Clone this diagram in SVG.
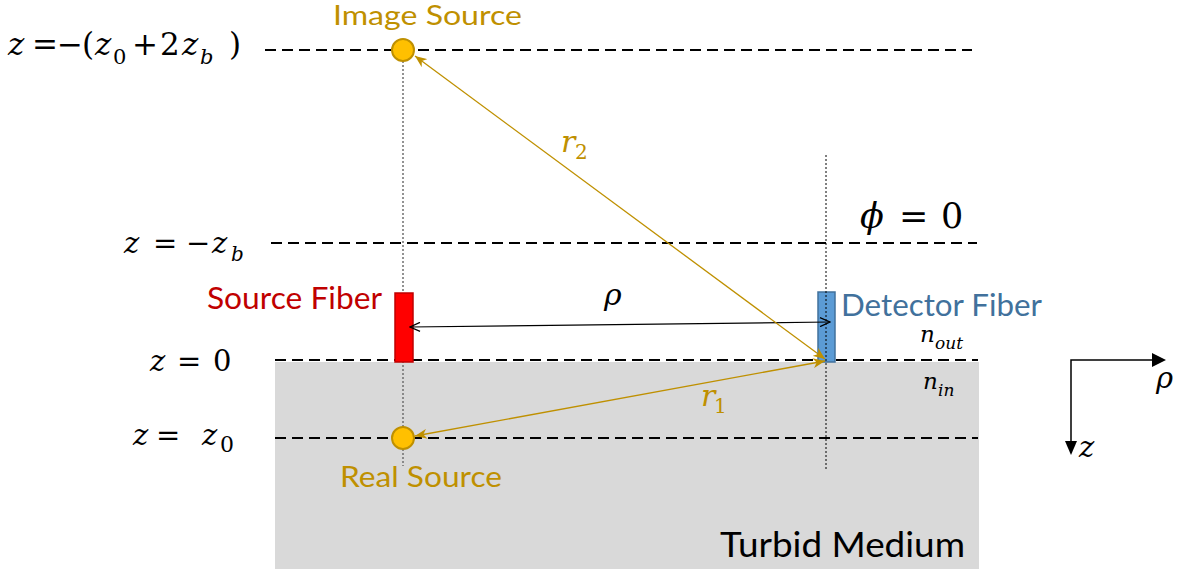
<svg xmlns="http://www.w3.org/2000/svg" width="1195" height="572" viewBox="0 0 1195 572">
<style>
.dash{stroke:#000;stroke-width:2;stroke-dasharray:11,6;fill:none}
.lbl{font-family:Lato,"Open Sans","Liberation Sans",sans-serif}
.m{font-family:"DejaVu Serif","Liberation Serif",serif;fill:#000}
.i{font-style:italic}
.gold{fill:#BF9000}
.ray{stroke:#BF9000;stroke-width:1.3;fill:none}
.src{fill:#FFC000;stroke:#BF9000;stroke-width:2}
</style>
<defs>
<marker id="stealth" viewBox="0 0 12 10" refX="12" refY="5" markerWidth="12" markerHeight="10" markerUnits="userSpaceOnUse" orient="auto-start-reverse">
<path d="M0,0 L12,5 L0,10 L3.5,5 z" fill="#BF9000"/>
</marker>
<marker id="open" viewBox="0 0 12 10" refX="11" refY="5" markerWidth="12" markerHeight="10" markerUnits="userSpaceOnUse" orient="auto-start-reverse">
<path d="M1,0.5 L11,5 L1,9.5" fill="none" stroke="#000" stroke-width="1.3"/>
</marker>
</defs>
<rect width="1195" height="572" fill="#fff"/>
<g id="medium">
<rect x="275" y="362" width="704" height="207" fill="#D9D9D9"/>
<text class="lbl" x="720" y="557" font-size="35" textLength="245" lengthAdjust="spacingAndGlyphs">Turbid Medium</text>
</g>
<g id="levels">
<line class="dash" x1="265" y1="50" x2="972" y2="50"/>
<line class="dash" x1="271" y1="243" x2="977" y2="243"/>
<line class="dash" x1="275" y1="360" x2="978" y2="360"/>
<line class="dash" x1="275" y1="438" x2="978" y2="438"/>
<line x1="403" y1="61" x2="403" y2="466" stroke="#6f6f6f" stroke-width="1.5" stroke-dasharray="2,2"/>
</g>
<g id="level-labels" class="m">
<text y="55" font-size="31"><tspan class="i" x="8">z</tspan><tspan x="32">=</tspan><tspan x="57">−</tspan><tspan x="82">(</tspan><tspan class="i" x="95">z</tspan><tspan x="113" y="64" font-size="21">0</tspan><tspan x="132" y="55">+</tspan><tspan x="160">2</tspan><tspan class="i" x="182">z</tspan><tspan class="i" x="200" y="64" font-size="21">b</tspan><tspan x="229" y="55">)</tspan></text>
<text y="253" font-size="29"><tspan class="i" x="124">z</tspan><tspan x="153">=</tspan><tspan x="186">−</tspan><tspan class="i" x="212">z</tspan><tspan class="i" x="231" y="261" font-size="20">b</tspan></text>
<text y="371" font-size="29"><tspan class="i" x="150">z</tspan><tspan x="177">=</tspan><tspan x="213">0</tspan></text>
<text y="445" font-size="29"><tspan class="i" x="133">z</tspan><tspan x="156">=</tspan><tspan class="i" x="202">z</tspan><tspan x="220" y="452" font-size="22">0</tspan></text>
<text y="228" font-size="35"><tspan class="i" x="860">ϕ</tspan><tspan x="899">=</tspan><tspan x="941">0</tspan></text>
<text font-size="23"><tspan class="i" x="920" y="342">n</tspan><tspan class="i" x="935" y="349" font-size="17">out</tspan></text>
<text font-size="23"><tspan class="i" x="923" y="389">n</tspan><tspan class="i" x="938" y="396" font-size="17">in</tspan></text>
</g>
<g id="source-fiber">
<rect x="395" y="293" width="18" height="69" fill="#FF0000" stroke="#C00000" stroke-width="1.5"/>
<text class="lbl" x="207" y="309" font-size="30" fill="#C00000" textLength="175" lengthAdjust="spacingAndGlyphs">Source Fiber</text>
</g>
<g id="detector-fiber">
<rect x="818" y="292" width="17" height="70" fill="#5B9BD5" stroke="#41719C" stroke-width="1.5"/>
<line x1="826" y1="155" x2="826" y2="470" stroke="#000" stroke-width="1" stroke-dasharray="2,2"/>
<text class="lbl" x="841" y="316" font-size="30" fill="#41719C" textLength="201" lengthAdjust="spacingAndGlyphs">Detector Fiber</text>
</g>
<g id="connectors">
<line x1="410" y1="327" x2="830" y2="322" stroke="#000" stroke-width="1.2" marker-start="url(#open)" marker-end="url(#open)"/>
<line class="ray" x1="415" y1="56" x2="825" y2="359" marker-start="url(#stealth)" marker-end="url(#stealth)"/>
<line class="ray" x1="415" y1="436" x2="825" y2="361" marker-start="url(#stealth)" marker-end="url(#stealth)"/>
<text class="m i" x="604" y="305" font-size="30">ρ</text>
<text class="m gold" font-size="30"><tspan class="i" x="561" y="152">r</tspan><tspan x="575" y="159" font-size="20">2</tspan></text>
<text class="m gold" font-size="30"><tspan class="i" x="701" y="406">r</tspan><tspan x="714" y="413" font-size="20">1</tspan></text>
</g>
<g id="image-source">
<circle class="src" cx="403" cy="50" r="11"/>
<text class="lbl gold" x="333" y="25" font-size="26" textLength="189" lengthAdjust="spacingAndGlyphs">Image Source</text>
</g>
<g id="real-source">
<circle class="src" cx="403" cy="438" r="11"/>
<text class="lbl gold" x="340" y="487" font-size="28" textLength="162" lengthAdjust="spacingAndGlyphs">Real Source</text>
</g>
<g id="axes">
<path d="M1071,442 V360 H1153" fill="none" stroke="#000" stroke-width="1.5"/>
<path d="M1152,353 L1166,360 L1152,367 z" fill="#000"/>
<path d="M1065,441 L1071,455 L1077,441 z" fill="#000"/>
<text class="m i" x="1156" y="388" font-size="29">ρ</text>
<text class="m i" x="1079" y="457" font-size="29">z</text>
</g>
</svg>
